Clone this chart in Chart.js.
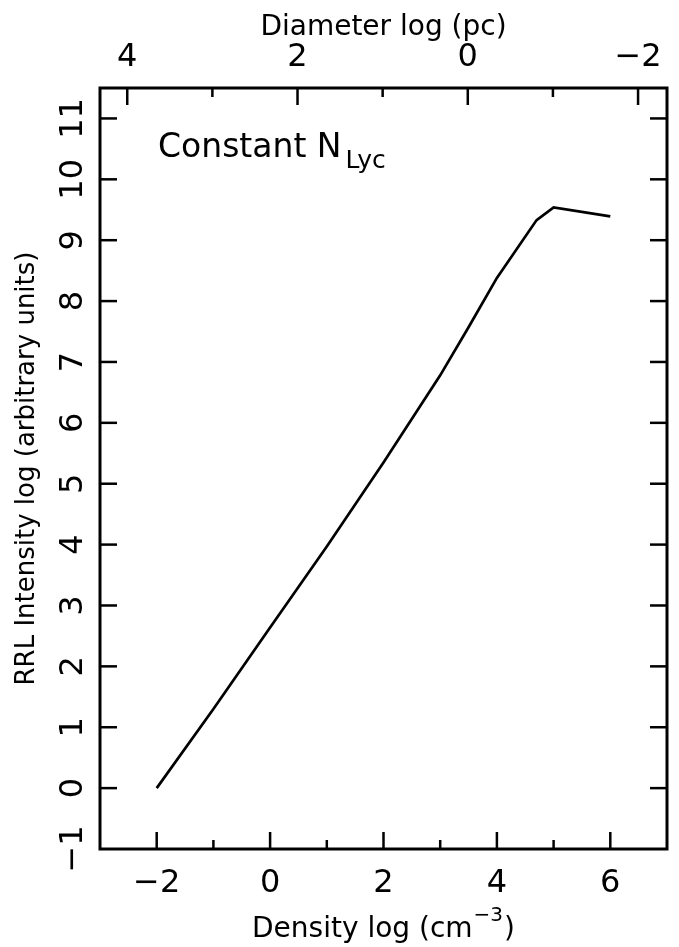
<!DOCTYPE html>
<html>
<head>
<meta charset="utf-8">
<script src="https://cdn.jsdelivr.net/npm/chart.js@4.4.1/dist/chart.umd.min.js"></script>
<style>
html,body{margin:0;padding:0;background:#fff;}
canvas{display:block;}
</style>
</head>
<body>
<canvas id="c" width="679" height="947"></canvas>
<script>
// ---- data ----
const densityLog   = [-2, -1, 0, 1, 2, 3, 3.5, 4, 4.7, 5, 6];
const intensityLog = [0, 1.30, 2.64, 3.97, 5.35, 6.78, 7.57, 8.38, 9.33, 9.54, 9.39];

// ---- axes / ticks ----
const densityTicks  = [-3, -2, -1, 0, 1, 2, 3, 4, 5, 6, 7];
const intensityTicks = [-1, 0, 1, 2, 3, 4, 5, 6, 7, 8, 9, 10, 11];
const diameterTicks = [-2, -1, 0, 1, 2, 3, 4];
const densityRange   = [-3, 7];
const intensityRange = [-1, 11.5];
const diameterRange  = [-2.34, 4.32];

const xTitleMain = 'Density log (cm';
const xTitleSup  = '\u22123';
const xTitleEnd  = ')';
const yTitle = 'RRL Intensity log (arbitrary units)';
const topTitle = 'Diameter log (pc)';
const noteMain = 'Constant N';
const noteSub  = 'Lyc';

const FONT = '"DejaVu Sans", "Liberation Sans", sans-serif';
const fmt = v => (v < 0 ? '\u2212' + Math.abs(v) : String(v));
const evenLabel = v => (Math.abs(v % 2) === 0 ? fmt(v) : '');

const frame = {
  id: 'frame',
  afterDatasetsDraw(chart) {
    const {ctx, chartArea: a, scales} = chart;
    ctx.save();
    ctx.strokeStyle = '#000';
    ctx.fillStyle = '#000';
    ctx.lineCap = 'butt';
    ctx.lineWidth = 3;
    ctx.strokeRect(a.left, a.top, a.right - a.left, a.bottom - a.top);
    ctx.lineWidth = 2.5;
    const seg = (x1, y1, x2, y2) => { ctx.beginPath(); ctx.moveTo(x1, y1); ctx.lineTo(x2, y2); ctx.stroke(); };
    const MAJ = 17, MIN = 9;
    // bottom ticks
    const sx = scales.x;
    sx.ticks.forEach(t => {
      const v = t.value;
      if (v <= sx.min || v >= sx.max) return;
      const px = sx.getPixelForValue(v);
      seg(px, a.bottom, px, a.bottom - (Math.abs(v % 2) === 0 ? MAJ : MIN));
    });
    // top ticks
    const st = scales.x2;
    st.ticks.forEach(t => {
      const v = t.value;
      if (v <= st.min || v >= st.max) return;
      const px = st.getPixelForValue(v);
      seg(px, a.top, px, a.top + (Math.abs(v % 2) === 0 ? MAJ : MIN));
    });
    // left/right ticks + rotated labels
    const sy = scales.y;
    ctx.font = '32px ' + FONT;
    ctx.textAlign = 'center';
    ctx.textBaseline = 'alphabetic';
    sy.ticks.forEach(t => {
      const v = t.value;
      const py = sy.getPixelForValue(v);
      if (v > sy.min && v < sy.max) {
        seg(a.left, py, a.left + MAJ, py);
        seg(a.right, py, a.right - MAJ, py);
      }
      ctx.save();
      ctx.translate(a.left - 18, py);
      ctx.rotate(-Math.PI / 2);
      ctx.fillText(fmt(v), 0, 0);
      ctx.restore();
    });
    // bottom title with superscript
    ctx.textAlign = 'left';
    const big = '28px ' + FONT, small = '20px ' + FONT;
    ctx.font = big; const w1 = ctx.measureText(xTitleMain).width; const w3 = ctx.measureText(xTitleEnd).width;
    ctx.font = small; const w2 = ctx.measureText(xTitleSup).width;
    const tot = w1 + w2 + w3 + 2;
    let x0 = (a.left + a.right) / 2 - tot / 2;
    const by = 937;
    ctx.font = big; ctx.fillText(xTitleMain, x0, by);
    ctx.font = small; ctx.fillText(xTitleSup, x0 + w1 + 1, by - 16);
    ctx.font = big; ctx.fillText(xTitleEnd, x0 + w1 + w2 + 2, by);
    // annotation
    ctx.font = '33px ' + FONT;
    const nx = a.left + 58, ny = 157;
    ctx.fillText(noteMain, nx, ny);
    const nw = ctx.measureText(noteMain).width;
    ctx.font = '25px ' + FONT;
    ctx.fillText(noteSub, nx + nw + 4, ny + 11);
    ctx.restore();
  }
};

const tickFont = {family: FONT, size: 32};
const noPad = s => { s.paddingLeft = 0; s.paddingRight = 0; s.paddingTop = 0; s.paddingBottom = 0; };

new Chart(document.getElementById('c'), {
  type: 'scatter',
  data: {
    datasets: [{
      data: densityLog.map((x, i) => ({x: x, y: intensityLog[i]})),
      showLine: true,
      borderColor: '#000',
      borderWidth: 2.7,
      pointRadius: 0,
      fill: false,
      tension: 0,
      xAxisID: 'x',
      yAxisID: 'y'
    }]
  },
  options: {
    responsive: false,
    animation: false,
    devicePixelRatio: 1,
    layout: {padding: {left: 0, right: 12, top: 0, bottom: 0}},
    plugins: {legend: {display: false}, tooltip: {enabled: false}},
    scales: {
      x: {
        type: 'linear', position: 'bottom',
        min: densityRange[0], max: densityRange[1],
        afterBuildTicks: s => { s.ticks = densityTicks.map(v => ({value: v})); },
        afterFit: s => { s.height = 98; noPad(s); },
        grid: {display: false, drawTicks: false},
        border: {display: false},
        ticks: {autoSkip: false, maxRotation: 0, minRotation: 0, padding: 15, font: tickFont, color: '#000', callback: v => evenLabel(v)},
        title: {display: false}
      },
      x2: {
        type: 'linear', position: 'top', reverse: true,
        min: diameterRange[0], max: diameterRange[1],
        afterBuildTicks: s => { s.ticks = diameterTicks.map(v => ({value: v})); },
        afterFit: s => { s.height = 88; noPad(s); },
        grid: {display: false, drawTicks: false},
        border: {display: false},
        ticks: {autoSkip: false, maxRotation: 0, minRotation: 0, padding: 11, font: tickFont, color: '#000', callback: v => evenLabel(v)},
        title: {display: true, text: topTitle, font: {family: FONT, size: 28}, color: '#000', padding: {top: 11, bottom: 0}}
      },
      y: {
        type: 'linear', position: 'left',
        min: intensityRange[0], max: intensityRange[1],
        afterBuildTicks: s => { s.ticks = intensityTicks.map(v => ({value: v})); },
        afterFit: s => { s.width = 100; noPad(s); },
        grid: {display: false, drawTicks: false},
        border: {display: false},
        ticks: {display: false},
        title: {display: true, text: yTitle, font: {family: FONT, size: 26}, color: '#000', padding: {top: 12, bottom: 0}}
      }
    }
  },
  plugins: [frame]
});
</script>
</body>
</html>
